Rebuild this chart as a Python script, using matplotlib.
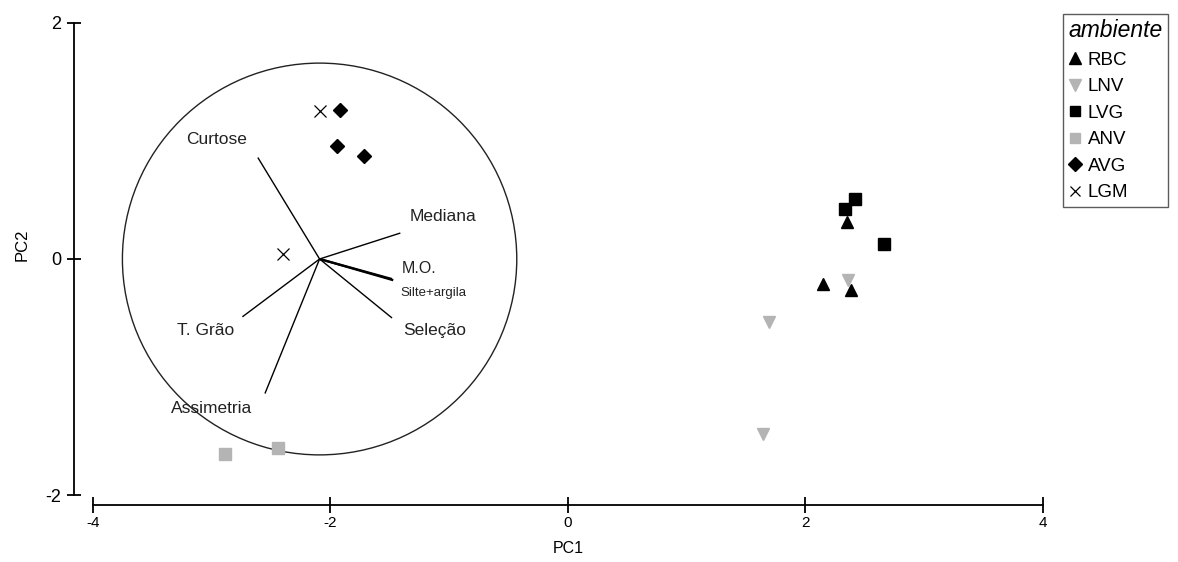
import matplotlib

matplotlib.use("Agg")
import matplotlib.pyplot as plt
from matplotlib.patches import Circle

plt.rcParams["font.family"] = ["Liberation Sans", "DejaVu Sans"]
plt.rcParams["axes.unicode_minus"] = False

# PCA scores per environment
rbc_x = [2.35, 2.15, 2.38]
rbc_y = [0.31, -0.21, -0.26]
lnv_x = [2.36, 1.69, 1.64]
lnv_y = [-0.18, -0.53, -1.48]
lvg_x = [2.42, 2.33, 2.66]
lvg_y = [0.51, 0.42, 0.13]
anv_x = [-2.89, -2.44]
anv_y = [-1.65, -1.60]
avg_x = [-1.92, -1.94, -1.72]
avg_y = [1.26, 0.96, 0.87]
lgm_x = [-2.09, -2.40]
lgm_y = [1.25, 0.04]

# variable loadings (drawn from the circle centre)
var_names = ["Curtose", "Mediana", "M.O.", "Silte+argila", "Seleção", "T. Grão", "Assimetria"]
var_dx = [-0.52, 0.68, 0.62, 0.61, 0.61, -0.65, -0.46]
var_dy = [0.86, 0.22, -0.18, -0.17, -0.50, -0.49, -1.14]
circle_centre = (-2.09, 0.0)
circle_radius = 1.66

fig = plt.figure(figsize=(11.78, 5.62), dpi=100)
ax = fig.add_axes([0.0787, 0.1192, 0.8067, 0.8399])
ax.set_xlim(-4, 4)
ax.set_ylim(-2, 2)

# correlation circle and vectors
ax.add_patch(Circle(circle_centre, circle_radius, fill=False, edgecolor="#222222", lw=1.0))
cx, cy = circle_centre
for name, dx, dy in zip(var_names, var_dx, var_dy):
    lw = 1.6 if name in ("M.O.", "Silte+argila") else 1.0
    ax.plot([cx, cx + dx], [cy, cy + dy], color="black", lw=lw, solid_capstyle="butt")

label_style = dict(fontsize=12.5, color="#222222", ha="center", va="center")
ax.text(-2.955, 1.014, "Curtose", **label_style)
ax.text(-1.053, 0.358, "Mediana", **label_style)
ax.text(-1.40, -0.079, "M.O.", ha="left", va="center", fontsize=11.5, color="#222222")
ax.text(-1.41, -0.286, "Silte+argila", ha="left", va="center", fontsize=9.5, color="#222222")
ax.text(-1.117, -0.608, "Seleção", **label_style)
ax.text(-3.048, -0.602, "T. Grão", **label_style)
ax.text(-2.997, -1.265, "Assimetria", **label_style)

dark = "black"
grey = "#b4b4b4"
ax.plot(rbc_x, rbc_y, ls="none", marker="^", ms=9, color=dark, mec=dark, label="RBC")
ax.plot(lnv_x, lnv_y, ls="none", marker="v", ms=9, color=grey, mec=grey, label="LNV")
ax.plot(lvg_x, lvg_y, ls="none", marker="s", ms=8.5, color=dark, mec=dark, label="LVG")
ax.plot(anv_x, anv_y, ls="none", marker="s", ms=8, color=grey, mec=grey, label="ANV")
ax.plot(avg_x, avg_y, ls="none", marker="D", ms=7.5, color=dark, mec=dark, label="AVG")
ax.plot(lgm_x, lgm_y, ls="none", marker="x", ms=8, color=dark, mew=0.9, label="LGM")

# detached axes
for side in ("top", "right"):
    ax.spines[side].set_visible(False)
ax.spines["left"].set_position(("outward", 13.5))
ax.spines["bottom"].set_position(("outward", 7.2))
ax.spines["left"].set_bounds(-2, 2)
ax.spines["bottom"].set_bounds(-4, 4)
ax.spines["left"].set_linewidth(1.3)
ax.spines["bottom"].set_linewidth(1.3)
ax.set_xticks([-4, -2, 0, 2, 4])
ax.set_yticks([-2, 0, 2])
ax.tick_params(axis="x", direction="inout", length=12, width=1.3, labelsize=11, pad=2)
ax.tick_params(axis="y", direction="inout", length=10, width=1.3, labelsize=13, pad=4)
ax.set_xlabel("PC1", fontsize=11.5, labelpad=8)
ax.set_ylabel("PC2", fontsize=12)
ax.yaxis.set_label_coords(-0.066, 0.53)

handles, labels = ax.get_legend_handles_labels()
leg = fig.legend(
    handles,
    labels,
    title="ambiente",
    loc="upper left",
    bbox_to_anchor=(1063 / 1178, 1 - 14 / 562),
    frameon=True,
    fancybox=False,
    edgecolor="#333333",
    fontsize=13.5,
    title_fontsize=16.5,
    handlelength=0.7,
    handletextpad=0.35,
    labelspacing=0.5,
    borderpad=0.28,
    borderaxespad=0,
    alignment="left",
    markerscale=0.9,
)
leg.get_title().set_fontstyle("italic")
leg.get_frame().set_linewidth(1.0)

fig.savefig("out.png", dpi=100)
